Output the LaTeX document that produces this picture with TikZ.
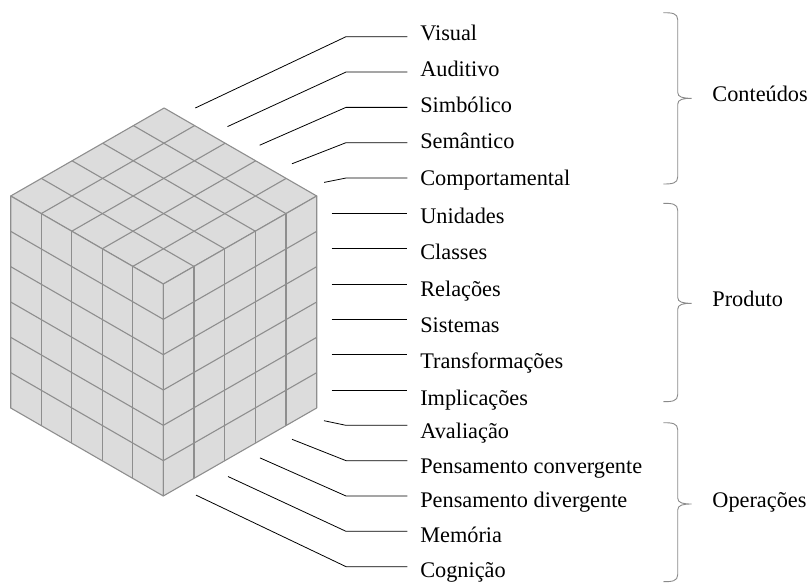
\documentclass[tikz,border=0pt]{standalone}
\usepackage{fontspec}
\setmainfont{Liberation Serif}
\begin{document}
\begin{tikzpicture}[x=1pt,y=-1pt,
  cubeface/.style={fill=cubefill,draw=cubeline,line width=1.1pt,line join=round},
  cubegrid/.style={draw=cubeline,line width=1.1pt},
  lead/.style={draw=black,line width=0.8pt},
  lab/.style={anchor=base west,inner xsep=12.8pt,inner ysep=0pt,
    font=\fontsize{22.3}{26}\selectfont},
  grp/.style={anchor=west,inner xsep=20.5pt,inner ysep=0pt,text height=0.66em,text depth=0em,
    font=\fontsize{22.3}{26}\selectfont},
  bracket/.style={draw=braceline,line width=0.9pt}]
\definecolor{cubefill}{HTML}{DCDCDC}
\definecolor{cubeline}{HTML}{8E8E8E}
\definecolor{braceline}{HTML}{8A8A8A}
\useasboundingbox (0,0) rectangle (811,583);

% ---------- the cube: 5 x 5 on top, 6 layers high ----------
\coordinate (F) at (163.3,284);
\begin{scope}[shift={(F)},x={(-30.52pt,17.6pt)},y={(30.68pt,17.6pt)},z={(0pt,-35.33pt)}]
  % top face
  \filldraw[cubeface] (0,0,0) -- (5,0,0) -- (5,5,0) -- (0,5,0) -- cycle;
  \foreach \t in {1,...,4} {
    \draw[cubegrid] (\t,0,0) -- (\t,5,0);
    \draw[cubegrid] (0,\t,0) -- (5,\t,0);
  }
  % left face
  \filldraw[cubeface] (0,0,0) -- (5,0,0) -- (5,0,6) -- (0,0,6) -- cycle;
  \foreach \t in {1,...,4} \draw[cubegrid] (\t,0,0) -- (\t,0,6);
  \foreach \t in {1,...,5} \draw[cubegrid] (0,0,\t) -- (5,0,\t);
  % right face
  \filldraw[cubeface] (0,0,0) -- (0,5,0) -- (0,5,6) -- (0,0,6) -- cycle;
  \foreach \t in {1,...,4} \draw[cubegrid] (0,\t,0) -- (0,\t,6);
  \foreach \t in {1,...,5} \draw[cubegrid] (0,0,\t) -- (0,5,\t);
\end{scope}

% ---------- labels (placed on their baselines) ----------
\foreach \t/\yb [count=\n from 0] in {Visual/40.3,Auditivo/76.5,Simbólico/112.6,
    Semântico/148.8,Comportamental/185,
    Unidades/223.3,Classes/259.6,Relações/296,Sistemas/332.3,Transformações/368.6,
    Implicações/405,
    Avaliação/438.3,Pensamento convergente/473,Pensamento divergente/507.8,
    Memória/542.5,Cognição/577.3}
  \node[lab] (l\n) at (407.3,\yb) {\t};

% leader rows
\foreach \n in {0,...,15}
  \coordinate (r\n) at (346,36.7+35.33*\n);

% contents: leaders from the top edge
\foreach \k in {0,...,4} {
  \coordinate (s\k) at (195.3+32.2*\k,108+18.6*\k);
  \draw[lead] (s\k) -- (r\k) -- (l\k.west |- r\k);
}
% products: straight leaders from the right face
\foreach \n in {5,...,10} {
  \coordinate (m\n) at (331.7,36.7+35.33*\n);
  \draw[lead] (m\n) -- (l\n.west |- m\n);
}
% operations: leaders from the bottom edge
\foreach \k in {0,...,4} {
  \pgfmathtruncatemacro{\n}{\k+11}
  \coordinate (b\n) at (324-32*\k,420.7+18.6*\k);
  \draw[lead] (b\n) -- (r\n) -- (l\n.west |- r\n);
}

% ---------- group labels and braces ----------
\node[grp] (g1) at (691.7,98.3) {Conteúdos};
\node[grp] (g2) at (691.7,303.3) {Produto};
\node[grp] (g3) at (691.7,504) {Operações};

\foreach \g/\ya/\ym/\yz in {g1/12.7/98.3/184, g2/203.3/303.3/401.7, g3/422.7/504/581.7} {
  \draw[bracket] (663.3,\ya) .. controls (672,\ya) and (677.7,\ya+0.5) .. (677.7,\ya+7)
    -- (677.7,\ym-6) .. controls (677.7,\ym-1) and (683,\ym) .. (\g.west)
    .. controls (683,\ym) and (677.7,\ym+1) .. (677.7,\ym+6)
    -- (677.7,\yz-7) .. controls (677.7,\yz-0.5) and (672,\yz) .. (663.3,\yz);
}
\end{tikzpicture}
\end{document}
